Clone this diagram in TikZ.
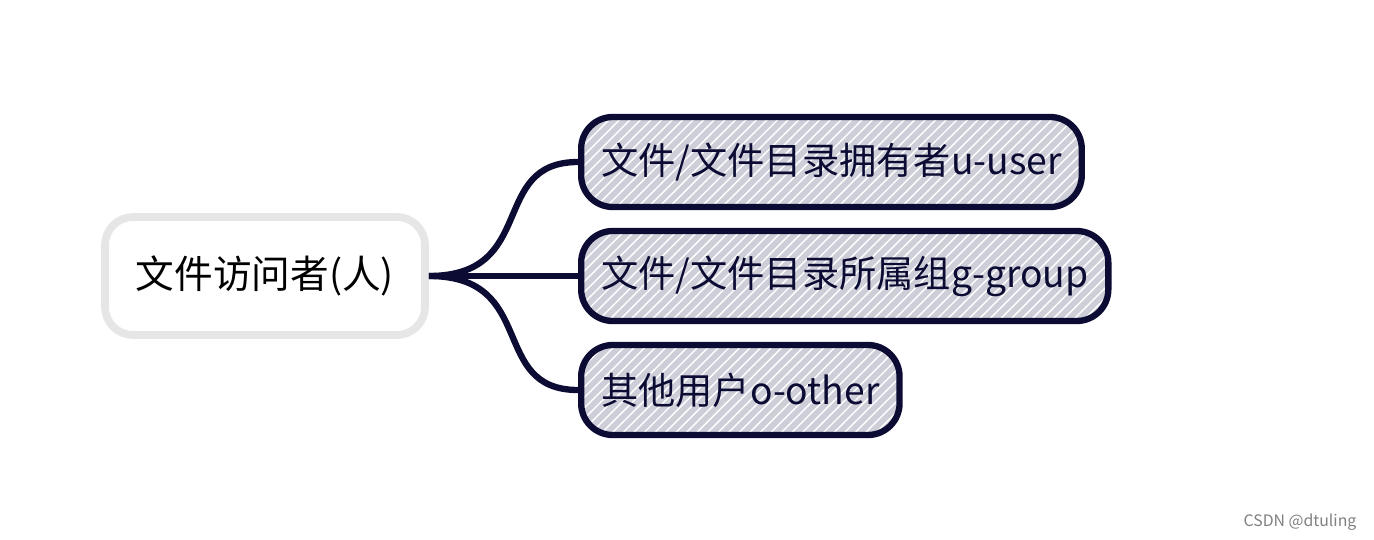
\documentclass[tikz,border=0pt]{standalone}
\usepackage{fontspec}
\setmainfont{Noto Sans CJK SC}
\usetikzlibrary{positioning,patterns}
\definecolor{navy}{HTML}{0B0B33}
\definecolor{leafgray}{HTML}{CDCED8}
\definecolor{rootline}{HTML}{E6E6E6}
\tikzset{
    rootbox/.style={draw=rootline, line width=2.2pt, fill=white, rounded corners=8pt,
        minimum width=3.2cm, minimum height=1.18cm, font=\fontsize{11}{13}\selectfont},
    leafbox/.style={draw=navy, line width=1.8pt, rounded corners=9pt,
        preaction={fill=leafgray}, pattern=north east lines, pattern color=white,
        minimum height=0.9cm, inner xsep=0.2cm, text=navy, font=\fontsize{10.6}{13}\selectfont},
    branch/.style={draw=navy, line width=1.8pt},
}
\begin{document}
\begin{tikzpicture}
    \useasboundingbox (0,0) rectangle (13.74,5.39);
    \node[rootbox] (visitor) at (2.65,2.63) {文件访问者(人)};
    \node[leafbox, anchor=west] (owner) at (5.78,3.77) {文件/文件目录拥有者u-user};
    \node[leafbox, anchor=west] (group) at (5.78,2.63) {文件/文件目录所属组g-group};
    \node[leafbox, anchor=west] (other) at (5.78,1.49) {其他用户o-other};
    \foreach \leaf in {owner,group,other} {
        \draw[branch] (visitor.east) .. controls +(1.1,0) and +(-0.9,0) .. (\leaf.west);
    }
    \node[font=\fontsize{4.5}{5}\selectfont, text=gray] (mark) at (13.0,0.17) {CSDN @dtuling};
\end{tikzpicture}
\end{document}
